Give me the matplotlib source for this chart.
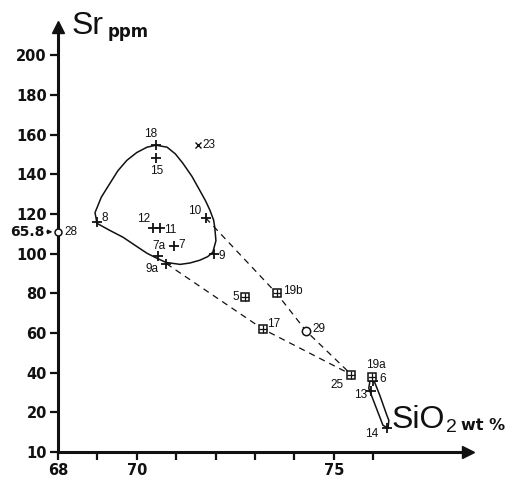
"""
Sr (ppm) vs SiO2 (wt %) variation diagram, redrawn from a scanned figure.
"""
import matplotlib
matplotlib.use("Agg")
import matplotlib.pyplot as plt

# ---- data ------------------------------------------------------------------
# sample labels, SiO2 wt %, Sr ppm
cross_ids = ["18", "15", "8", "12", "11", "10", "7", "7a", "9a", "9", "13", "14", "6"]
cross_sio2 = [70.5, 70.5, 69.0, 70.4, 70.6, 71.75, 70.95, 70.55, 70.75, 71.95, 75.95, 76.35, 76.0]
cross_sr = [155, 148, 116, 113, 113, 118, 104, 99, 95, 100, 31, 12, 36]

square_ids = ["5", "19b", "17", "25", "19a"]
square_sio2 = [72.75, 73.55, 73.2, 75.45, 75.97]
square_sr = [78, 80, 62, 39, 38]

circle_ids = ["29"]
circle_sio2 = [74.3]
circle_sr = [61]

x_ids = ["23"]
x_sio2 = [71.55]
x_sr = [155]

# sample 28 lies off the diagram (SiO2 = 65.8)
s28_sio2 = 65.8
s28_sr = 111

# hand-drawn envelope around the low-silica group
env_sio2 = [68.99, 68.94, 69.10, 69.32, 69.52, 69.75, 70.00, 70.26, 70.49, 70.77,
            70.98, 71.17, 71.40, 71.60, 71.75, 71.86, 71.95, 71.98, 72.01, 71.93,
            71.80, 71.60, 71.35, 71.10, 70.74, 70.50, 70.26, 69.95, 69.65, 69.30, 68.99]
env_sr = [115.3, 120.7, 128.5, 135.5, 141.8, 147.1, 151.0, 153.7, 154.7, 153.7,
          150.3, 145.6, 139.0, 131.9, 126.5, 121.8, 117.0, 113.3, 106.5, 100.7,
          98.5, 96.7, 95.3, 94.6, 95.6, 97.8, 100.2, 104.3, 108.3, 111.9, 115.3]

# narrow loop 19a-13-14
loop_sio2 = [75.94, 75.89, 76.25, 76.38, 76.40, 76.35, 76.17, 75.99, 75.94]
loop_sr = [38.2, 32.1, 13.5, 12.0, 16.0, 18.5, 28.6, 37.7, 38.2]

# dashed trends
trend1_sio2 = [71.75, 73.55, 74.3, 75.45]   # 10 -> 19b -> 29 -> 25
trend1_sr = [118, 80, 61, 39]
trend2_sio2 = [70.75, 73.2, 75.45]          # 9a -> 17 -> 25
trend2_sr = [95, 62, 39]

y_ticks = [0, 20, 40, 60, 80, 100, 120, 140, 160, 180, 200]
y_tick_labels = ["10", "20", "40", "60", "80", "100", "120", "140", "160", "180", "200"]
x_ticks = [68, 69, 70, 71, 72, 73, 74, 75, 76]
x_tick_labels = ["68", "", "70", "", "", "", "", "75", ""]

# label offsets in pixels (layout only)
label_offsets = {
    "18": (-6, 11, "center"), "15": (0, -13, "center"), "8": (4, 4, "left"),
    "12": (-9, 9, "center"), "11": (4, -2, "left"), "10": (-11, 7, "center"),
    "7": (4, 1, "left"), "7a": (0, 10, "center"), "9a": (-14, -5, "center"),
    "9": (5, -2, "left"), "13": (-4, -4, "right"), "14": (-15, -6, "center"),
    "6": (6, 2, "left"), "5": (-6, 0, "right"), "19b": (6, 2, "left"),
    "17": (4, 5, "left"), "25": (-14, -10, "center"), "19a": (4, 12, "center"),
    "29": (6, 2, "left"), "23": (5, 0, "left"),
}

INK = "#111111"
LABEL_FONT = ["Liberation Sans Narrow", "Liberation Sans", "DejaVu Sans"]
TITLE_FONT = ["Liberation Sans Narrow", "Liberation Sans", "DejaVu Sans"]

fig = plt.figure(figsize=(5.05, 4.79), dpi=100)
fig.patch.set_facecolor("white")
ax = fig.add_axes([58 / 505, 27 / 479, 410 / 505, 425 / 479])
ax.set_xlim(68, 78.41)
ax.set_ylim(0, 214.3)

for s in ["top", "right"]:
    ax.spines[s].set_visible(False)
for s in ["left", "bottom"]:
    ax.spines[s].set_linewidth(2.2)
    ax.spines[s].set_color(INK)
ax.plot(1, 0, ">", color=INK, ms=9, transform=ax.transAxes, clip_on=False)
ax.plot(0, 1, "^", color=INK, ms=9, transform=ax.transAxes, clip_on=False)

ax.set_yticks(y_ticks)
ax.set_yticklabels(y_tick_labels)
ax.set_xticks(x_ticks)
ax.set_xticklabels(x_tick_labels)
ax.tick_params(direction="out", length=6, width=1.6, color=INK, labelsize=10.5,
               labelcolor=INK, pad=2)
for lab in ax.get_xticklabels() + ax.get_yticklabels():
    lab.set_fontweight("bold")

# envelopes and trends
ax.plot(env_sio2, env_sr, color=INK, lw=1.1)
ax.plot(loop_sio2, loop_sr, color=INK, lw=1.1)
ax.plot(trend1_sio2, trend1_sr, color=INK, lw=0.9, dashes=(5, 4))
ax.plot(trend2_sio2, trend2_sr, color=INK, lw=0.9, dashes=(5, 4))

# samples
ax.plot(cross_sio2, cross_sr, "+", color=INK, ms=7, mew=1.3, ls="none")
ax.plot(square_sio2, square_sr, "s", mfc="white", mec=INK, ms=6, mew=1.1, ls="none")
ax.plot(square_sio2, square_sr, "+", color=INK, ms=6, mew=0.9, ls="none")
ax.plot(circle_sio2, circle_sr, "o", mfc="white", mec=INK, ms=6, mew=1.1, ls="none")
ax.plot(x_sio2, x_sr, "x", color=INK, ms=5, mew=1.0, ls="none")

ids = cross_ids + square_ids + circle_ids + x_ids
xs = cross_sio2 + square_sio2 + circle_sio2 + x_sio2
ys = cross_sr + square_sr + circle_sr + x_sr
for name, x, y in zip(ids, xs, ys):
    dx, dy, ha = label_offsets[name]
    ax.annotate(name, (x, y), xytext=(dx, dy), textcoords="offset pixels",
                ha=ha, va="center", fontsize=8.5, family=LABEL_FONT, color=INK)

# sample 28, off-scale to the left
x0 = ax.get_xlim()[0]
ax.plot(x0, s28_sr, "o", mfc="white", mec=INK, ms=5, mew=1.1, clip_on=False, zorder=5)
ax.annotate("28", (x0, s28_sr), xytext=(6, 0), textcoords="offset pixels",
            ha="left", va="center", fontsize=8.5, family=LABEL_FONT, color=INK)
ax.annotate(f"{s28_sio2:.1f}", (x0, s28_sr), xytext=(-14, 0), textcoords="offset pixels",
            ha="right", va="center", fontsize=10, fontweight="bold", color=INK,
            arrowprops=dict(arrowstyle="-|>", color=INK, lw=1.0,
                            shrinkA=0, shrinkB=4, mutation_scale=6),
            annotation_clip=False)

# axis titles
fig.text(72 / 505, 1 - 26 / 479, "Sr", fontsize=23, family=TITLE_FONT,
         va="center", ha="left", color=INK)
fig.text(108 / 505, 1 - 32 / 479, "ppm", fontsize=12, fontweight="bold",
         va="center", ha="left", color=INK)
fig.text(392 / 505, 1 - 420 / 479, "SiO", fontsize=23, family=TITLE_FONT,
         va="center", ha="left", color=INK)
fig.text(446 / 505, 1 - 428 / 479, "2", fontsize=14, family=TITLE_FONT,
         va="center", ha="left", color=INK)
fig.text(461 / 505, 1 - 425 / 479, "wt %", fontsize=11.5, fontweight="bold",
         va="center", ha="left", color=INK)

fig.savefig("out.png", dpi=100)
